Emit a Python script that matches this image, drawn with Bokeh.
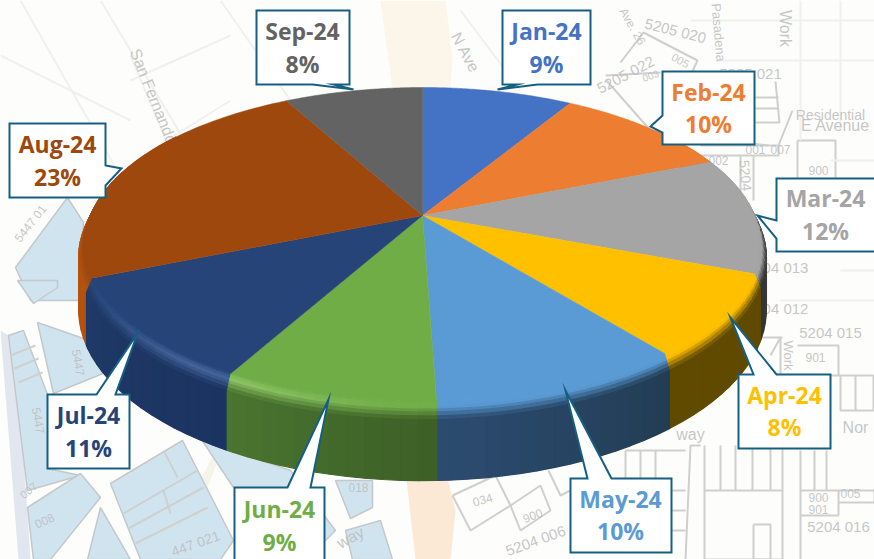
import numpy as np
from bokeh.plotting import figure
from bokeh.embed import file_html
from bokeh.resources import INLINE
from bokeh.core.properties import value

# ---------- data ----------
months = ["Jan-24", "Feb-24", "Mar-24", "Apr-24", "May-24", "Jun-24", "Jul-24", "Aug-24", "Sep-24"]
shares = [8.6, 10.25, 12.05, 8.4, 10.2, 8.6, 10.7, 23.4, 7.9]
face_colors = ["#4472c4", "#ed7d31", "#a5a5a5", "#ffc000", "#5b9bd5", "#70ad47", "#264478", "#9e480e", "#636363"]
wall_start = ["#2a4a85", "#a0521f", "#5a5a5a", "#604a00", "#223c53", "#3c5f26", "#1b3360", "#b3530f", "#444444"]
wall_end = ["#2a4a85", "#a0521f", "#333333", "#604a00", "#2c4c70", "#4a7530", "#1f3a68", "#b3530f", "#444444"]

# ---------- layout (pixels of the page picture) ----------
CX, CY = 422.0, 215.0
R, S, K, DEPTH = 332.0, 151.3, 0.182, 62.0
boxes = {  # left, right, top, bottom
    "Jan-24": (502, 590, 10, 84), "Feb-24": (662, 754, 71, 144), "Mar-24": (776, 880, 178, 251),
    "Apr-24": (738, 830, 374, 448), "May-24": (570, 671, 478, 552), "Jun-24": (234, 324, 487, 575),
    "Jul-24": (47, 129, 394, 468), "Aug-24": (9, 105, 123, 197), "Sep-24": (256, 349, 10, 84)}
tails = {  # side, base a, base b, tip x, tip y
    "Jan-24": ("b", 517, 537, 497, 89), "Feb-24": ("l", 115, 132, 650, 126), "Mar-24": ("l", 220, 238, 757, 215),
    "Apr-24": ("t", 753, 776, 730, 317), "May-24": ("t", 587, 611, 565, 390), "Jun-24": ("t", 287, 310, 328, 399),
    "Jul-24": ("t", 96, 115, 137, 333), "Aug-24": ("r", 165, 185, 121, 168), "Sep-24": ("b", 312, 333, 353, 89)}
text_y = {"Jan-24": (30, 63), "Feb-24": (91, 123), "Mar-24": (197, 230), "Apr-24": (394, 426), "May-24": (498, 530),
          "Jun-24": (508, 541), "Jul-24": (414, 447), "Aug-24": (143, 176), "Sep-24": (30, 63)}
text_x = {"Jan-24": 546, "Feb-24": 708, "Mar-24": 825, "Apr-24": 784, "May-24": 620, "Jun-24": 279, "Jul-24": 88,
          "Aug-24": 57, "Sep-24": 302}

p = figure(width=874, height=559, x_range=(0, 874), y_range=(559, 0), output_backend="svg",
           toolbar_location=None, min_border=0, background_fill_color="#fdfdfb", border_fill_color="#ffffff")
p.axis.visible = False
p.grid.visible = False
p.outline_line_color = None


def hexrgb(c):
    return np.array([int(c[i:i + 2], 16) for i in (1, 3, 5)], float)


def blend(a, b, f):
    v = hexrgb(a) * (1 - f) + hexrgb(b) * f
    return "#%02x%02x%02x" % tuple(int(round(x)) for x in v)


# ---------- background map ----------
road = [([380, 445, 452, 448, 395], [0, 0, 60, 110, 110], "#fbf5ea"),
        ([405, 445, 455, 450, 415], [470, 470, 510, 559, 559], "#fbe9d5"),
        ([0, 8, 22, 30, 18], [330, 335, 440, 559, 559], "#e2e6ef"),
        ([150, 205, 240, 180], [559, 470, 400, 559], "#f4f4ea")]
p.patches([r[0] for r in road], [r[1] for r in road], fill_color=[r[2] for r in road], line_color=None)

parcels = [
    [(15, 267), (67, 197), (83, 222), (80, 300), (30, 300)],
    [(17, 280), (33, 303), (57, 287), (57, 280)],
    [(37, 322), (83, 338), (110, 370), (53, 393)],
    [(8, 335), (23, 330), (47, 394), (47, 468), (80, 475), (27, 490)],
    [(27, 507), (80, 473), (100, 497), (50, 559), (33, 559)],
    [(87, 559), (100, 507), (130, 559)],
    [(110, 483), (182, 440), (233, 540), (220, 559), (140, 559)],
    [(129, 395), (170, 420), (233, 450), (290, 470), (335, 530), (325, 540), (233, 487), (195, 430)],
    [(335, 480), (372, 480), (372, 507), (350, 518)],
    [(345, 530), (380, 520), (392, 559), (352, 559)],
]
p.patches([[q[0] for q in s] for s in parcels], [[q[1] for q in s] for s in parcels],
          fill_color="#d0e4f0", line_color="#c4c8cc", line_width=1.5)

lines = [
    [(123, 513), (197, 470)], [(128, 528), (203, 487)], [(135, 543), (207, 507)], [(163, 490), (170, 513)],
    [(163, 450), (177, 477)], [(10, 355), (35, 345)], [(14, 368), (38, 358)], [(18, 382), (42, 372)],
    [(620, 62), (643, 32), (697, 60), (690, 75)], [(605, 75), (660, 72)], [(606, 80), (650, 130), (768, 145)],
    [(775, 81), (779, 122), (755, 122)], [(755, 97), (778, 97)], [(755, 108), (778, 108)],
    [(700, 145), (778, 145), (778, 155), (700, 155)], [(797, 140), (835, 140), (835, 225)], [(797, 140), (797, 180)],
    [(740, 155), (740, 230)], [(753, 155), (753, 200)], [(778, 145), (792, 110)],
    [(770, 355), (780, 337), (780, 400)], [(797, 345), (838, 345), (838, 375), (797, 375)],
    [(735, 337), (782, 337)], [(838, 375), (873, 375), (873, 410)],
    [(840, 375), (840, 410), (874, 410)], [(855, 375), (855, 410)],
    [(700, 445), (690, 445), (685, 559)], [(704, 445), (704, 490)], [(720, 445), (720, 490)],
    [(735, 445), (735, 490), (704, 490), (704, 559), (782, 559), (782, 490), (735, 490)],
    [(752, 445), (752, 490)], [(770, 445), (770, 490)], [(782, 445), (782, 490)],
    [(800, 450), (800, 559)], [(814, 450), (814, 490)], [(826, 450), (826, 490)],
    [(800, 490), (838, 490), (838, 515), (800, 515)], [(838, 490), (874, 490), (874, 502), (838, 502)],
    [(625, 450), (685, 450)], [(625, 450), (625, 480)], [(640, 450), (640, 480)], [(655, 450), (655, 480)],
    [(452, 495), (495, 475), (510, 505), (470, 530), (452, 495)], [(510, 505), (540, 485), (550, 510), (520, 530), (510, 505)],
    [(548, 470), (560, 495), (570, 490)], [(671, 490), (685, 490)], [(671, 510), (685, 510)], [(671, 530), (685, 530)],
    [(753, 524), (770, 524), (770, 559), (753, 559), (753, 524)],
]
p.multi_line([[q[0] for q in s] for s in lines], [[q[1] for q in s] for s in lines], line_color="#cfcfcf", line_width=2)
pale = [[(20, 0), (125, 185)], [(100, 0), (190, 150)], [(0, 55), (130, 120)], [(130, 80), (230, 35)],
        [(220, 0), (290, 100)], [(150, 150), (230, 100)], [(130, 55), (170, 150)], [(460, 10), (520, 90)],
        [(800, 0), (800, 140)], [(840, 0), (840, 130)], [(690, 20), (874, 20)], [(720, 60), (874, 60)],
        [(830, 160), (874, 160)], [(840, 270), (874, 270)], [(780, 300), (874, 300)]]
p.multi_line([[q[0] for q in s] for s in pale], [[q[1] for q in s] for s in pale], line_color="#f0f0ee", line_width=2)

map_txt = [("San Fernando", 153, 96, -68, 16), ("5447 01", 30, 223, 52, 12), ("5205 020", 675, 30, -14, 15),
           ("5205 022", 625, 74, 28, 15), ("5205 021", 750, 73, 0, 15), ("Residential", 830, 114, 0, 14),
           ("E Avenue", 835, 125, 0, 16), ("900", 818, 170, 0, 12), ("5204", 745, 175, -85, 14),
           ("04 013", 785, 267, 0, 15), ("04 012", 785, 308, 0, 15), ("5204 015", 830, 332, 0, 15), ("901", 815, 357, 0, 12),
           ("way", 690, 434, 0, 16), ("Nor", 855, 427, 0, 16), ("034", 482, 499, 15, 12), ("900", 532, 515, 20, 12),
           ("5204 006", 535, 540, 20, 15), ("5204 016", 838, 526, 0, 15), ("005", 850, 493, 0, 12),
           ("900", 818, 497, 0, 12), ("901", 818, 509, 0, 12), ("Work", 785, 28, -90, 16), ("Work", 788, 355, -90, 13),
           ("018", 358, 487, 0, 12), ("008", 44, 520, 25, 12), ("007", 28, 490, 40, 11), ("way", 350, 537, 28, 16),
           ("447 021", 195, 543, 20, 14), ("N Ave", 465, 52, -62, 16), ("Pasadena", 718, 32, -85, 13),
           ("Ave. 26", 632, 26, -60, 12), ("5447", 78, 362, -80, 12), ("5447", 38, 420, -80, 12), ("001", 755, 149, 0, 12),
           ("007", 780, 149, 0, 12), ("002", 718, 160, 0, 12), ("005", 680, 60, -30, 11), ("003", 650, 75, 20, 10)]
p.text([t[1] for t in map_txt], [t[2] for t in map_txt], text=[t[0] for t in map_txt],
       angle=[np.deg2rad(t[3]) for t in map_txt], text_font=value("Liberation Sans"),
       text_font_size=[f"{t[4]}px" for t in map_txt], text_color="#bcbcbc", text_align="center",
       text_baseline="middle", text_alpha=0.85)


# ---------- pie ----------
def project(t_deg, depth=0.0, grow=1.0):
    t = np.deg2rad(t_deg)
    s, c = np.sin(t) * grow, np.cos(t) * grow
    w = 1 + K * c
    return CX + R * s / w, CY - S * c / w + depth / w


total = sum(shares)
edges = np.concatenate([[0], np.cumsum(shares)]) / total * 360

layers = [0, .03, .06, .09, .12, .16, .2, 1.0]
quads = []
for i, m in enumerate(months):
    a, b = edges[i], edges[i + 1]
    if b < 58 or a > 305:
        continue
    ts = np.arange(max(a, 58), min(b, 305) + 2.5, 2.5)
    ts[-1] = min(b, 305)
    for t0, t1 in zip(ts[:-1], ts[1:]):
        tm = (t0 + t1) / 2
        frac = (tm - a) / (b - a)
        wall = blend(wall_start[i], wall_end[i], frac)
        hl = np.exp(-((tm - 212) / 22.0) ** 2) * 0.3 if tm > 178 else 0.0
        rim = blend(face_colors[i], "#d8ffb0" if i == 5 else "#8fb4f0", hl)
        ext = float(np.clip((0.55 - np.cos(np.deg2rad(tm))) / 0.4, 0, 1))
        for l0, l1 in zip(layers[:-1], layers[1:]):
            g = min(1.0, (l0 + l1) / 2 / 0.2)
            col = blend(face_colors[i], rim, g / 0.35) if g < 0.35 else blend(rim, wall, (g - 0.35) / 0.65)
            g0, g1 = min(1, l0 / 0.2), min(1, l1 / 0.2)
            gr0, gr1 = 1 + 0.018 * ext * g0, 1 + 0.018 * ext * g1
            x0, y0 = project(t0, DEPTH * l0, gr0)
            x1, y1 = project(t1, DEPTH * l0, gr0)
            x2, y2 = project(t1, DEPTH * l1, gr1)
            x3, y3 = project(t0, DEPTH * l1, gr1)
            quads.append((y0 + y1, [x0, x1, x2, x3], [y0, y1, y2, y3], col))
quads.sort(key=lambda q: q[0])
p.patches([q[1] for q in quads], [q[2] for q in quads], fill_color=[q[3] for q in quads],
          line_color=[q[3] for q in quads], line_width=1.2)

fx, fy = [], []
for i in range(len(months)):
    xs, ys = project(np.linspace(edges[i], edges[i + 1], 60))
    fx.append([CX] + list(xs))
    fy.append([CY] + list(ys))
p.patches(fx, fy, fill_color=face_colors, line_color=face_colors, line_width=0.5)

# ---------- callouts ----------
for i, m in enumerate(months):
    l, r, t, b = boxes[m]
    side, a, c, tx, ty = tails[m]
    if side == "t":
        pts = [(l, t), (a, t), (tx, ty), (c, t), (r, t), (r, b), (l, b)]
    elif side == "b":
        pts = [(l, t), (r, t), (r, b), (c, b), (tx, ty), (a, b), (l, b)]
    elif side == "l":
        pts = [(l, t), (r, t), (r, b), (l, b), (l, c), (tx, ty), (l, a)]
    else:
        pts = [(l, t), (r, t), (r, a), (tx, ty), (r, c), (r, b), (l, b)]
    p.patch([q[0] for q in pts], [q[1] for q in pts], fill_color="#ffffff", line_color="#156082", line_width=2,
            line_join="miter")
    y1, y2 = text_y[m]
    p.text([text_x[m]] * 2, [y1, y2], text=[m, f"{round(shares[i])}%"], text_font=value("Open Sans"),
           text_font_style="bold", text_font_size="23px", text_color=face_colors[i], text_align="center",
           text_baseline="middle")

open("out.html", "w").write(file_html(p, INLINE))
